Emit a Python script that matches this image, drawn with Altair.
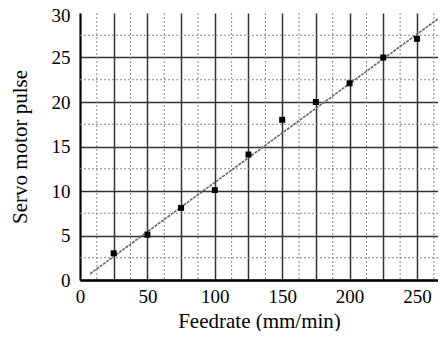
import altair as alt
import pandas as pd

# data
feed = [25, 50, 75, 100, 125, 150, 175, 200, 225, 250]
pulse = [3.0, 5.1, 8.1, 10.1, 14.1, 18.0, 20.0, 22.1, 25.0, 27.1]
fit_x = [7.5, 271.5]
fit_y = [0.7, 30.0]
x_major = [0, 25, 50, 75, 100, 125, 150, 175, 200, 225, 250]
x_minor = [12.5, 37.5, 62.5, 87.5, 112.5, 137.5, 162.5, 187.5, 212.5, 237.5, 262.5]
y_major = [0, 5, 10, 15, 20, 25, 30]
y_minor = [2.5, 7.5, 12.5, 17.5, 22.5, 27.5]

FONT = "Liberation Serif"
xs = alt.Scale(domain=[0, 265.6], nice=False, zero=False)
ys = alt.Scale(domain=[0, 30], nice=False)

pts = pd.DataFrame({"feed": feed, "pulse": pulse})
fit = pd.DataFrame({"fx": fit_x, "fy": fit_y})
xm = pd.DataFrame({"v": x_minor})
ym = pd.DataFrame({"v": y_minor})

xaxis = alt.Axis(
    title="Feedrate (mm/min)", values=x_major,
    labelExpr="datum.value % 50 == 0 ? datum.label : ''",
    grid=True, gridColor="#333333", gridWidth=1.5,
    ticks=False, domainColor="black", domainWidth=2.5,
    labelFont=FONT, labelFontSize=19, labelColor="black", labelPadding=7,
    titleFont=FONT, titleFontSize=21, titleFontWeight="normal", titleColor="black",
    titlePadding=4, labelFlush=False,
)
yaxis = alt.Axis(
    title="Servo motor pulse", values=y_major,
    grid=True, gridColor="#333333", gridWidth=1.5,
    gridOpacity={"condition": {"test": "datum.value == 30", "value": 0}, "value": 1},
    labelOffset={"condition": {"test": "datum.value == 30", "value": 2}, "value": 0},
    ticks=False, domainColor="black", domainWidth=2,
    labelFont=FONT, labelFontSize=19, labelColor="black", labelPadding=10,
    titleFont=FONT, titleFontSize=21, titleFontWeight="normal", titleColor="black",
    titlePadding=21, labelFlush=False,
)

points = alt.Chart(pts).mark_point(shape="square", filled=True, color="black", size=36, opacity=1).encode(
    x=alt.X("feed:Q", scale=xs, axis=xaxis),
    y=alt.Y("pulse:Q", scale=ys, axis=yaxis),
)
minor_x = alt.Chart(xm).mark_rule(color="#888888", strokeWidth=1, strokeDash=[2, 2]).encode(
    x=alt.X("v:Q", scale=xs, axis=xaxis)
)
minor_y = alt.Chart(ym).mark_rule(color="#888888", strokeWidth=1, strokeDash=[2, 2]).encode(
    y=alt.Y("v:Q", scale=ys, axis=yaxis)
)
fitline = alt.Chart(fit).mark_line(color="#666666", strokeWidth=1.6, strokeDash=[3, 1], clip=True).encode(
    x=alt.X("fx:Q", scale=xs, axis=xaxis),
    y=alt.Y("fy:Q", scale=ys, axis=yaxis),
)

chart = alt.layer(minor_x, minor_y, fitline, points).properties(
    width=358, height=267,
    autosize=alt.AutoSizeParams(type="none"),
    padding={"left": 72, "top": 5, "right": 0, "bottom": 51},
    background="white",
).configure_view(stroke=None)

chart.save("out.html", embed_options={"renderer": "svg", "actions": False})
